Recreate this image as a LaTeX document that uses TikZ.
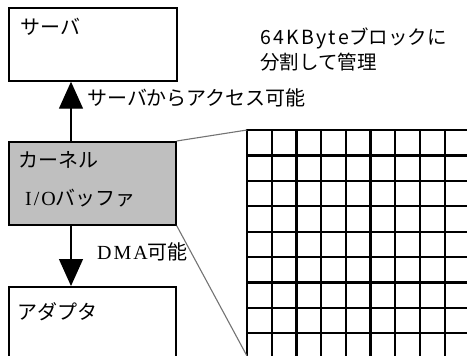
\documentclass[tikz,border=0pt]{standalone}
\usepackage{fontspec}
\setmainfont{Liberation Serif}
\newfontfamily\latls[LetterSpace=10]{Liberation Serif}
\newfontfamily\cjk{Noto Sans CJK JP}
\newfontfamily\cjkls[LetterSpace=12]{Noto Sans CJK JP}
\usetikzlibrary{arrows.meta,calc}
\tikzset{
  box/.style={draw=black, line width=1.7pt, rectangle, anchor=north west, inner sep=0pt},
  lbl/.style={anchor=west, inner sep=0pt, font=\fontsize{20}{24}\selectfont},
  rlbl/.style={anchor=west, inner sep=0pt, font=\fontsize{19.5}{23}\selectfont\cjk},
  arr/.style={line width=1.3pt, -{Triangle[width=24pt,length=27pt]}},
  zoomline/.style={draw=black!55, line width=1.1pt},
  gridline/.style={line width=2.2pt, black}
}
\begin{document}
\begin{tikzpicture}[x=1pt,y=-1pt]
\useasboundingbox (0,0) rectangle (467,356);
% boxes
\node[box, minimum width=168, minimum height=73] (srv) at (8,7) {};
\node[box, minimum width=167, minimum height=83, fill=black!25] (krn) at (8,141) {};
\node[box, minimum width=167, minimum height=72] (adp) at (8,286) {};
% box texts
\node[lbl] (tsrv) at (20,27) {\cjk サーバ};
\node[lbl] (tkrn1) at (18,160) {\cjk カーネル};
\node[lbl] (tkrn2) at (25,198) {{\latls I/O}\cjk バッファ};
\node[lbl] (tadp) at (17,312) {\cjk アダプタ};
% arrows
\draw[arr] ($(krn.north west)+(63,0)$) -- ($(srv.south west)+(63,0)$);
\draw[arr] ($(krn.south west)+(63,0)$) -- ($(adp.north west)+(63,0)$);
\node[lbl] (tacc) at (87,98) {\cjk サーバからアクセス可能};
\node[lbl] (tdma) at (97,252) {{\latls DMA}\cjk 可能};
% grid
\coordinate (gtl) at (247,130);
\coordinate (gbl) at (247,356);
\foreach \i in {0,...,9} {
  \draw[gridline] ({247+24.7*\i},130) -- ({247+24.7*\i},358);
}
\foreach \j in {0,...,9} {
  \draw[gridline] (246,{130+25.4*\j}) -- (470,{130+25.4*\j});
}
% zoom lines
\draw[zoomline] (krn.north east) -- (gtl);
\draw[zoomline] (krn.south east) -- (gbl);
% grid caption
\node[rlbl] (tcap1) at (260,38) {{\cjkls 64KByte}ブロックに};
\node[rlbl] (tcap2) at (260,62) {分割して管理};
\end{tikzpicture}
\end{document}
